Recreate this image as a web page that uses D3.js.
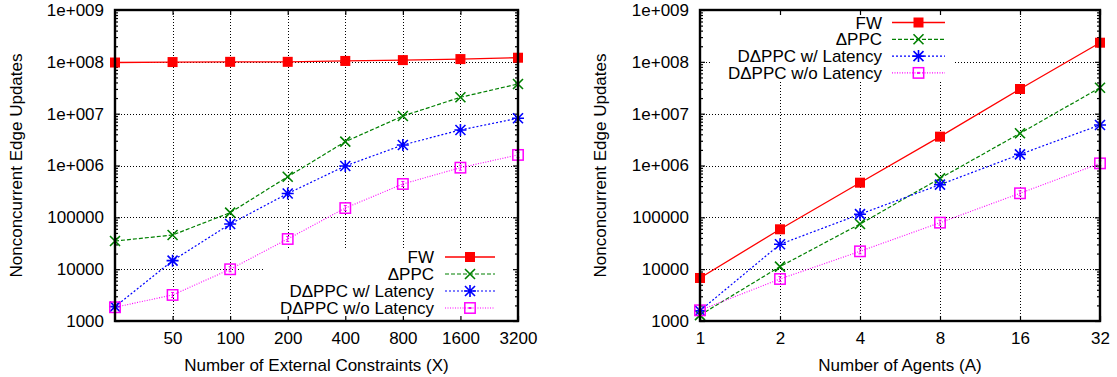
<!DOCTYPE html>
<html>
<head>
<meta charset="utf-8">
<script src="https://cdn.jsdelivr.net/npm/d3@7/dist/d3.min.js"></script>
<style>
  html, body { margin: 0; padding: 0; background: #fff; }
  svg text { font-family: "Liberation Sans", Arial, Helvetica, sans-serif; fill: #000; }
</style>
</head>
<body>
<script>
// ---- Data: external constraints sweep (left panel) ----
const constraintCounts = [25, 50, 100, 200, 400, 800, 1600, 3200];
const constraintTicks = [50, 100, 200, 400, 800, 1600, 3200];
const constraintTickLabels = ["50", "100", "200", "400", "800", "1600", "3200"];
const fwByConstraints = [9.7e7, 9.9e7, 1.0e8, 1.0e8, 1.04e8, 1.08e8, 1.13e8, 1.2e8];
const ppcByConstraints = [34900, 45600, 123000, 608000, 2.88e6, 9.0e6, 2.07e7, 3.74e7];
const dppcLatByConstraints = [1890, 14600, 74300, 288000, 980000, 2.49e6, 4.85e6, 8.15e6];
const dppcNoLatByConstraints = [1840, 3180, 9960, 38200, 151000, 440000, 908000, 1.6e6];

// ---- Data: agent count sweep (right panel) ----
const agentCounts = [1, 2, 4, 8, 16, 32];
const agentTicks = [1, 2, 4, 8, 16, 32];
const agentTickLabels = ["1", "2", "4", "8", "16", "32"];
const fwByAgents = [6760, 58800, 466000, 3.6e6, 2.99e7, 2.34e8];
const ppcByAgents = [1300, 11200, 74300, 566000, 4.18e6, 3.17e7];
const dppcLatByAgents = [1580, 30200, 115000, 427000, 1.64e6, 6.05e6];
const dppcNoLatByAgents = [1610, 6460, 22100, 78900, 291000, 1.1e6];

// ---- Shared y axis ----
const yTickValues = [1e3, 1e4, 1e5, 1e6, 1e7, 1e8, 1e9];
const yTickLabels = ["1000", "10000", "100000", "1e+006", "1e+007", "1e+008", "1e+009"];
const seriesNames = ["FW", "\u0394PPC", "D\u0394PPC w/ Latency", "D\u0394PPC w/o Latency"];
const yTitle = "Nonconcurrent Edge Updates";

// ---- Styling ----
const seriesStyles = [
  { color: "#ff0000", dash: null,    width: 1.3, marker: "fsquare" },
  { color: "#008000", dash: "4,2",   width: 1.2, marker: "cross" },
  { color: "#0000ff", dash: "2,2",   width: 1.2, marker: "star" },
  { color: "#ff00ff", dash: "1,1.5", width: 1.1, marker: "osquare" }
];
const FONT = 17;

const svg = d3.select("body").append("svg")
  .attr("width", 1117).attr("height", 377)
  .style("display", "block");

function drawMarker(g, type, cx, cy, color, inLegend) {
  const m = g.append("g").attr("transform", `translate(${cx},${cy})`);
  if (type === "fsquare") {
    m.append("rect").attr("x", -5).attr("y", -5).attr("width", 10).attr("height", 10)
      .attr("fill", color);
  } else if (type === "cross") {
    m.append("path").attr("d", "M-5,-5L5,5M-5,5L5,-5")
      .attr("stroke", color).attr("stroke-width", 1.6).attr("fill", "none");
  } else if (type === "star") {
    m.append("path").attr("d", "M-5,-5L5,5M-5,5L5,-5M0,-6L0,6M-6,0L6,0")
      .attr("stroke", color).attr("stroke-width", 1.6).attr("fill", "none");
  } else if (type === "osquare") {
    m.append("rect").attr("x", -5.2).attr("y", -5.2).attr("width", 10.4).attr("height", 10.4)
      .attr("fill", "none").attr("stroke", color).attr("stroke-width", 1.5);
    // small error bar glyph inside the box
    const h = inLegend ? 0.5 : 2.5;
    m.append("path").attr("d", `M0,${-h}L0,${h}M-1.5,${-h}L1.5,${-h}M-1.5,${h}L1.5,${h}`)
      .attr("stroke", color).attr("stroke-width", 1).attr("fill", "none");
  }
}

function drawPanel(cfg) {
  const { left, right, top, bottom } = cfg;
  const x = d3.scaleLog().base(2).domain(cfg.xDomain).range([left, right]);
  const y = d3.scaleLog().domain([1e3, 1e9]).range([bottom, top]);
  const g = svg.append("g");

  // grid
  const grid = g.append("g").attr("stroke", "#000").attr("stroke-width", 1)
    .attr("stroke-dasharray", "1,2").attr("shape-rendering", "crispEdges");
  yTickValues.filter(v => v > 1e3 && v < 1e9).forEach(v => {
    const yy = Math.round(y(v)) + 0.5;
    grid.append("line").attr("x1", left).attr("x2", right).attr("y1", yy).attr("y2", yy);
  });
  cfg.xTicks.filter(v => v > cfg.xDomain[0] && v < cfg.xDomain[1]).forEach(v => {
    const xx = Math.round(x(v)) + 0.5;
    grid.append("line").attr("x1", xx).attr("x2", xx).attr("y1", top).attr("y2", bottom);
  });

  // opaque key background
  g.append("rect").attr("x", cfg.key.boxX0).attr("y", cfg.key.boxY0)
    .attr("width", cfg.key.boxX1 - cfg.key.boxX0).attr("height", cfg.key.boxY1 - cfg.key.boxY0)
    .attr("fill", "#fff");

  // minor and major ticks (inward) on all sides
  const minor = [];
  for (let e = 3; e < 9; e++) for (let k = 2; k <= 9; k++) minor.push(k * Math.pow(10, e));
  const tickG = g.append("g");
  const addAxis = (axis, tx, ty) => {
    const a = tickG.append("g").attr("transform", `translate(${tx},${ty})`).call(axis);
    a.select(".domain").remove();
    a.selectAll("line").attr("stroke", "#000").attr("stroke-width", 1.2);
    return a;
  };
  addAxis(d3.axisLeft(y).tickValues(minor).tickSize(-3).tickFormat(""), left, 0);
  addAxis(d3.axisRight(y).tickValues(minor).tickSize(-3).tickFormat(""), right, 0);
  addAxis(d3.axisRight(y).tickValues(yTickValues).tickSize(-5).tickFormat(""), right, 0);
  const yl = addAxis(d3.axisLeft(y).tickValues(yTickValues).tickSize(-5).tickPadding(11)
    .tickFormat((d, i) => yTickLabels[i]), left, 0);
  yl.selectAll("text").attr("font-size", FONT);
  addAxis(d3.axisTop(x).tickValues(cfg.xTicks).tickSize(-5).tickFormat(""), 0, top);
  const xl = addAxis(d3.axisBottom(x).tickValues(cfg.xTicks).tickSize(-5).tickPadding(11)
    .tickFormat((d, i) => cfg.xLabels[i]), 0, bottom);
  xl.selectAll("text").attr("font-size", FONT);

  // series
  const line = d3.line().x((d, i) => x(cfg.xs[i])).y(d => y(d));
  cfg.series.forEach((vals, s) => {
    const st = seriesStyles[s];
    g.append("path").datum(vals).attr("d", line)
      .attr("fill", "none").attr("stroke", st.color).attr("stroke-width", st.width)
      .attr("stroke-dasharray", st.dash);
    vals.forEach((v, i) => drawMarker(g, st.marker, x(cfg.xs[i]), y(v), st.color, false));
  });

  // key
  const k = cfg.key;
  seriesNames.forEach((name, s) => {
    const st = seriesStyles[s];
    const yy = k.rowY0 + s * k.rowStep;
    g.append("text").attr("x", k.textRight).attr("y", yy).attr("dy", "0.36em")
      .attr("text-anchor", "end").attr("font-size", FONT).text(name);
    g.append("line").attr("x1", k.lineX0).attr("x2", k.lineX1).attr("y1", yy).attr("y2", yy)
      .attr("stroke", st.color).attr("stroke-width", st.width).attr("stroke-dasharray", st.dash);
    drawMarker(g, st.marker, (k.lineX0 + k.lineX1) / 2, yy, st.color, true);
  });

  // frame
  g.append("rect").attr("x", left).attr("y", top).attr("width", right - left).attr("height", bottom - top)
    .attr("fill", "none").attr("stroke", "#000").attr("stroke-width", 2.4);

  // titles
  g.append("text").attr("x", (left + right) / 2).attr("y", 365).attr("dy", "0.36em")
    .attr("text-anchor", "middle").attr("font-size", FONT).text(cfg.xTitle);
  g.append("text").attr("transform", `translate(${cfg.yTitleX},${(top + bottom) / 2}) rotate(-90)`)
    .attr("dy", "0.36em").attr("text-anchor", "middle").attr("font-size", FONT).text(yTitle);
}

drawPanel({
  left: 115, right: 518, top: 10, bottom: 321,
  xDomain: [25, 3200], xs: constraintCounts,
  xTicks: constraintTicks, xLabels: constraintTickLabels,
  xTitle: "Number of External Constraints (X)", yTitleX: 16,
  series: [fwByConstraints, ppcByConstraints, dppcLatByConstraints, dppcNoLatByConstraints],
  key: { boxX0: 264, boxX1: 516, boxY0: 249, boxY1: 320,
         textRight: 434, lineX0: 445, lineX1: 495, rowY0: 257, rowStep: 17 }
});

drawPanel({
  left: 700, right: 1100, top: 10, bottom: 321,
  xDomain: [1, 32], xs: agentCounts,
  xTicks: agentTicks, xLabels: agentTickLabels,
  xTitle: "Number of Agents (A)", yTitleX: 600,
  series: [fwByAgents, ppcByAgents, dppcLatByAgents, dppcNoLatByAgents],
  key: { boxX0: 712, boxX1: 954, boxY0: 11, boxY1: 81,
         textRight: 882, lineX0: 892, lineX1: 945, rowY0: 22.5, rowStep: 16.8 }
});
</script>
</body>
</html>
